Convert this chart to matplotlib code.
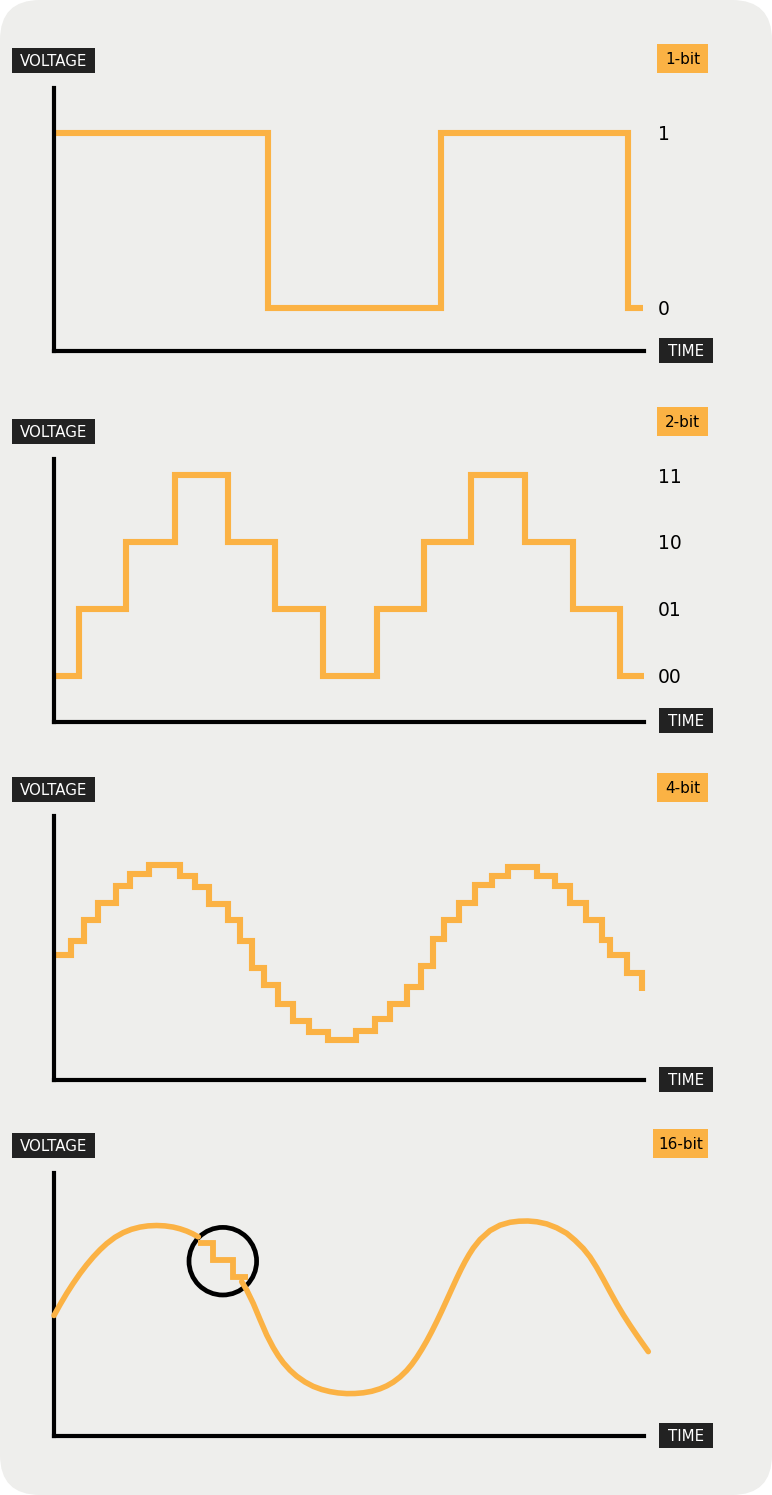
import matplotlib
matplotlib.use('Agg')
import matplotlib.pyplot as plt
from matplotlib.patches import FancyBboxPatch, Rectangle, Circle

W, H = 772, 1495
ORANGE = '#fbb244'
DARK = '#222222'
PANEL_BG = '#eeeeec'

# --- data (time in arbitrary units, voltage levels) ---
# 1-bit: square wave
t_1bit = [0, 2.135, 3.87, 5.74, 5.89]
v_1bit = [1, 0, 1, 0, 0]
levels_1bit = [0, 1]
labels_1bit = ['0', '1']

# 2-bit: four levels
t_2bit = [0, 0.245, 0.72, 1.21, 1.74, 2.21, 2.69, 3.23, 3.70, 4.17, 4.71, 5.19, 5.66, 5.90]
v_2bit = [0, 1, 2, 3, 2, 1, 0, 1, 2, 3, 2, 1, 0, 0]
levels_2bit = [0, 1, 2, 3]
labels_2bit = ['00', '01', '10', '11']

# 4-bit: finer staircase
t_4bit = [0, 0.167, 0.303, 0.443, 0.62, 0.76, 0.95, 1.257, 1.41, 1.553, 1.743,
          1.863, 1.98, 2.097, 2.243, 2.393, 2.55, 2.74, 3.02, 3.207, 3.363, 3.53,
          3.673, 3.787, 3.897, 4.053, 4.213, 4.377, 4.543, 4.83, 5.01, 5.163,
          5.32, 5.48, 5.563, 5.733, 5.883]
v_4bit = [1.25, 1.39, 1.60, 1.77, 1.94, 2.06, 2.15, 2.04, 1.93, 1.76, 1.60,
          1.39, 1.12, 0.95, 0.76, 0.59, 0.48, 0.40, 0.49, 0.61, 0.76, 0.93,
          1.14, 1.41, 1.60, 1.77, 1.95, 2.04, 2.13, 2.04, 1.94, 1.77, 1.60,
          1.40, 1.25, 1.07, 0.89]

# 16-bit: smooth curve, with a zoomed-in staircase piece
t_16_a = [0.000, 0.060, 0.127, 0.190, 0.260, 0.325, 0.393, 0.460, 0.527, 0.610,
          0.693, 0.775, 0.860, 0.940, 1.027, 1.110, 1.193, 1.260, 1.327, 1.385, 1.443]
v_16_a = [1.205, 1.313, 1.426, 1.524, 1.625, 1.710, 1.791, 1.862, 1.924, 1.987,
          2.034, 2.067, 2.089, 2.101, 2.105, 2.101, 2.089, 2.072, 2.049, 2.023, 1.991]
t_16_zoom = [1.443, 1.587, 1.787, 1.943]
v_16_zoom = [1.933, 1.757, 1.587, 1.587]
t_16_b = [1.877, 1.927, 1.993, 2.060, 2.127, 2.193, 2.243, 2.293, 2.360, 2.427,
          2.510, 2.593, 2.677, 2.760, 2.840, 2.927, 3.010, 3.093, 3.177, 3.260,
          3.327, 3.393, 3.460, 3.527, 3.577, 3.627, 3.677, 3.727, 3.777, 3.827,
          3.877, 3.927, 3.977, 4.027, 4.070, 4.110, 4.150, 4.193, 4.260, 4.360,
          4.460, 4.560, 4.650, 4.740, 4.830, 4.927, 5.027, 5.127, 5.210, 5.293,
          5.360, 5.427, 5.493, 5.560, 5.627, 5.693, 5.760, 5.827, 5.885, 5.943]
v_16_b = [1.543, 1.460, 1.325, 1.165, 1.010, 0.883, 0.802, 0.733, 0.658, 0.598,
          0.540, 0.496, 0.465, 0.444, 0.431, 0.424, 0.425, 0.432, 0.447, 0.472,
          0.501, 0.539, 0.590, 0.655, 0.715, 0.785, 0.864, 0.950, 1.044, 1.144,
          1.249, 1.358, 1.468, 1.577, 1.666, 1.743, 1.813, 1.880, 1.964, 2.054,
          2.108, 2.137, 2.148, 2.150, 2.142, 2.121, 2.082, 2.027, 1.957, 1.875,
          1.791, 1.685, 1.568, 1.444, 1.323, 1.212, 1.108, 1.009, 0.926, 0.844]
zoom_center = (1.688, 1.748)
zoom_radius = 0.338

fig = plt.figure(figsize=(W / 100, H / 100), dpi=100, facecolor='white')

# background card, pixel coordinates
bg = fig.add_axes([0, 0, 1, 1], zorder=-1)
bg.set_xlim(0, W)
bg.set_ylim(H, 0)
bg.axis('off')
bg.add_patch(FancyBboxPatch((0, 0), W, H, boxstyle='round,pad=0,rounding_size=40',
                            fc=PANEL_BG, ec='none'))


def label_box(x0, x1, y0, y1, text, fc, tc, size):
    bg.add_patch(Rectangle((x0, y0), x1 - x0, y1 - y0, fc=fc, ec='none'))
    base = (y0 + y1) / 2 + 0.365 * size * 100 / 72
    bg.text((x0 + x1) / 2, base, text, color=tc, fontsize=size,
            ha='center', va='baseline', family='DejaVu Sans')


def make_panel(top, bottom, ylim):
    ax = fig.add_axes([54 / W, 1 - bottom / H, (644 - 54) / W, (bottom - top) / H])
    ax.set_xlim(0, 5.90)
    ax.set_ylim(*ylim)
    ax.patch.set_alpha(0)
    for s in ['top', 'right']:
        ax.spines[s].set_visible(False)
    for s in ['left', 'bottom']:
        ax.spines[s].set_linewidth(3.0)
        ax.spines[s].set_color('black')
        ax.spines[s].set_capstyle('projecting')
    ax.set_xticks([])
    ax.set_yticks([])
    ax.yaxis.tick_right()
    ax.tick_params(axis='y', length=0, pad=10, labelsize=13.5)
    return ax


line_kw = dict(color=ORANGE, lw=4.4, clip_on=False, solid_joinstyle='miter',
               solid_capstyle='butt')

# panel 1: 1-bit
ax1 = make_panel(88, 351, (-0.2457, 1.257))
ax1.step(t_1bit, v_1bit, where='post', **line_kw)
ax1.set_yticks(levels_1bit, labels_1bit)

# panel 2: 2-bit
ax2 = make_panel(459, 722, (-0.687, 3.239))
ax2.step(t_2bit, v_2bit, where='post', **line_kw)
ax2.set_yticks(levels_2bit, labels_2bit)

# panel 3: 4-bit
ax3 = make_panel(816, 1080, (0, 2.64))
ax3.step(t_4bit, v_4bit, where='post', **line_kw)

# panel 4: 16-bit
ax4 = make_panel(1173, 1436, (0, 2.63))
ax4.add_patch(Circle(zoom_center, zoom_radius, fc='none', ec='black', lw=3.4,
                     clip_on=False, zorder=2))
curve_kw = dict(color=ORANGE, lw=4.0, clip_on=False, solid_capstyle='round',
                solid_joinstyle='round', zorder=3)
ax4.plot(t_16_a, v_16_a, **curve_kw)
ax4.plot(t_16_b, v_16_b, **curve_kw)
ax4.step(t_16_zoom, v_16_zoom, where='post', color=ORANGE, lw=4.2, clip_on=False,
         solid_joinstyle='miter', solid_capstyle='butt', zorder=3)

# axis name tags and bit depth tags
for y0, y1 in [(48, 73), (419, 444), (777, 802), (1133, 1158)]:
    label_box(12, 95, y0, y1, 'VOLTAGE', DARK, 'white', 10.8)
for y0, y1 in [(338, 363), (708, 733), (1067, 1092), (1423, 1448)]:
    label_box(659, 713, y0, y1, 'TIME', DARK, 'white', 10.8)
for x0, (y0, y1), name in [(657, (44, 73), '1-bit'), (657, (407, 436), '2-bit'),
                           (657, (773, 802), '4-bit'), (653, (1129, 1158), '16-bit')]:
    label_box(x0, 708, y0, y1, name, ORANGE, 'black', 11)

plt.savefig('out.png', dpi=100, facecolor='white')
plt.close()
